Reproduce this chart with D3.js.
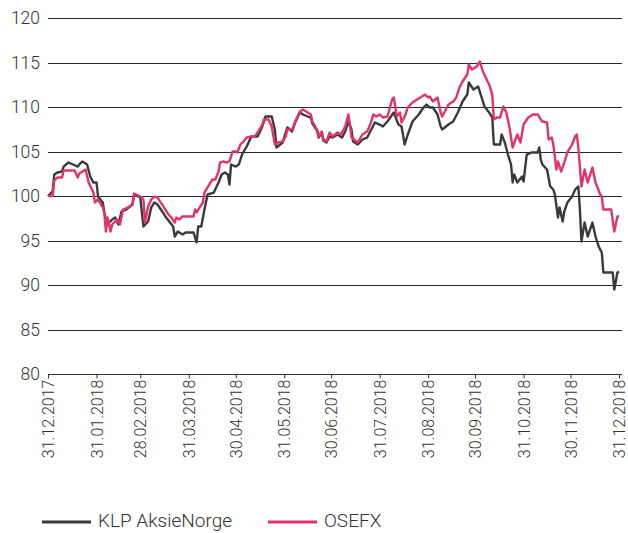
<!DOCTYPE html>
<html>
<head>
<meta charset="utf-8">
<script src="https://cdn.jsdelivr.net/npm/d3@7"></script>
<style>
  html, body { margin: 0; padding: 0; background: #fff; }
  svg { display: block; font-family: "Roboto", "Open Sans", sans-serif; }
</style>
</head>
<body>
<div id="chart"></div>
<script>
// Indeksert utvikling 2018 (31.12.2017 = 100)
const klpDates = [
  "2017-12-31","2018-01-03","2018-01-04","2018-01-06","2018-01-09","2018-01-10","2018-01-13","2018-01-16",
  "2018-01-19","2018-01-20","2018-01-22","2018-01-25","2018-01-27","2018-01-29","2018-01-31","2018-02-01",
  "2018-02-04","2018-02-05","2018-02-07","2018-02-10","2018-02-12","2018-02-14","2018-02-16","2018-02-19",
  "2018-02-23","2018-02-24","2018-02-28","2018-03-02","2018-03-05","2018-03-07","2018-03-09","2018-03-11",
  "2018-03-14","2018-03-16","2018-03-19","2018-03-21","2018-03-22","2018-03-24","2018-03-27","2018-03-29",
  "2018-04-03","2018-04-05","2018-04-06","2018-04-08","2018-04-10","2018-04-12","2018-04-16","2018-04-19",
  "2018-04-21","2018-04-23","2018-04-25","2018-04-26","2018-04-27","2018-04-30","2018-05-02","2018-05-04",
  "2018-05-07","2018-05-10","2018-05-14","2018-05-17","2018-05-19","2018-05-23","2018-05-25","2018-05-26",
  "2018-05-30","2018-06-02","2018-06-05","2018-06-07","2018-06-10","2018-06-12","2018-06-15","2018-06-17",
  "2018-06-18","2018-06-21","2018-06-22","2018-06-24","2018-06-25","2018-06-27","2018-06-29","2018-07-01",
  "2018-07-04","2018-07-07","2018-07-09","2018-07-11","2018-07-13","2018-07-14","2018-07-17","2018-07-20",
  "2018-07-23","2018-07-25","2018-07-28","2018-07-31","2018-08-02","2018-08-05","2018-08-09","2018-08-10",
  "2018-08-12","2018-08-14","2018-08-16","2018-08-18","2018-08-21","2018-08-25","2018-08-28","2018-08-30",
  "2018-09-01","2018-09-03","2018-09-06","2018-09-08","2018-09-09","2018-09-13","2018-09-16","2018-09-19",
  "2018-09-22","2018-09-25","2018-09-26","2018-09-29","2018-10-02","2018-10-04","2018-10-06","2018-10-09",
  "2018-10-11","2018-10-12","2018-10-16","2018-10-17","2018-10-19","2018-10-21","2018-10-23","2018-10-24",
  "2018-10-25","2018-10-27","2018-10-30","2018-10-31","2018-11-02","2018-11-05","2018-11-09","2018-11-10",
  "2018-11-11","2018-11-12","2018-11-15","2018-11-17","2018-11-19","2018-11-20","2018-11-22","2018-11-23",
  "2018-11-25","2018-11-26","2018-11-28","2018-12-01","2018-12-03","2018-12-05","2018-12-06","2018-12-07",
  "2018-12-09","2018-12-11","2018-12-14","2018-12-16","2018-12-18","2018-12-20","2018-12-21","2018-12-27",
  "2018-12-28","2018-12-30","2018-12-31"
];
const klpValues = [
  100.00,100.51,102.42,102.64,102.75,103.31,103.76,103.54,
  103.31,103.54,103.88,103.54,102.19,101.52,101.52,99.94,
  99.27,98.15,96.80,97.36,97.58,96.80,98.26,98.48,
  99.04,100.17,99.83,96.57,97.13,98.71,99.27,99.04,
  98.26,97.70,97.02,96.57,95.45,96.01,95.67,95.90,
  95.90,94.78,96.57,96.57,98.48,100.17,100.39,101.52,
  102.42,102.64,102.42,101.29,103.54,103.31,103.54,104.66,
  105.56,106.69,106.69,107.81,108.93,108.93,107.47,105.45,
  106.01,107.70,107.25,108.26,109.38,109.16,108.93,108.82,
  108.15,107.36,106.57,107.13,106.24,106.01,106.69,106.57,
  106.91,106.57,107.25,108.37,107.47,106.12,105.79,106.35,
  106.57,107.25,108.26,108.03,107.81,108.37,109.38,108.93,
  108.03,107.81,105.79,106.91,108.37,109.16,109.94,110.28,
  109.94,109.94,109.16,107.81,107.47,108.03,108.37,109.38,
  110.62,111.40,112.75,111.97,112.30,111.18,110.06,109.38,
  108.82,105.79,105.79,106.91,106.01,104.66,103.54,101.52,
  102.42,101.52,102.19,101.63,104.66,104.89,104.89,105.45,
  104.10,103.54,102.98,101.07,100.73,100.17,97.58,98.71,
  97.13,98.26,99.27,99.94,100.73,101.07,98.48,94.89,
  97.02,95.45,97.02,95.45,94.33,93.65,91.40,91.40,
  89.49,91.40,91.52
];

const osefxDates = [
  "2017-12-31","2018-01-03","2018-01-04","2018-01-06","2018-01-09","2018-01-10","2018-01-14","2018-01-17",
  "2018-01-19","2018-01-20","2018-01-24","2018-01-26","2018-01-29","2018-01-30","2018-02-01","2018-02-04",
  "2018-02-05","2018-02-06","2018-02-07","2018-02-09","2018-02-10","2018-02-13","2018-02-15","2018-02-17",
  "2018-02-20","2018-02-23","2018-02-24","2018-02-28","2018-03-02","2018-03-03","2018-03-05","2018-03-07",
  "2018-03-09","2018-03-11","2018-03-14","2018-03-16","2018-03-18","2018-03-20","2018-03-22","2018-03-23",
  "2018-03-25","2018-03-27","2018-04-03","2018-04-04","2018-04-05","2018-04-07","2018-04-09","2018-04-10",
  "2018-04-12","2018-04-15","2018-04-17","2018-04-19","2018-04-20","2018-04-22","2018-04-24","2018-04-26",
  "2018-04-28","2018-04-30","2018-05-01","2018-05-03","2018-05-05","2018-05-07","2018-05-10","2018-05-12",
  "2018-05-14","2018-05-17","2018-05-18","2018-05-21","2018-05-23","2018-05-25","2018-05-27","2018-05-30",
  "2018-06-01","2018-06-02","2018-06-05","2018-06-07","2018-06-10","2018-06-12","2018-06-15","2018-06-17",
  "2018-06-18","2018-06-21","2018-06-22","2018-06-24","2018-06-25","2018-06-27","2018-06-29","2018-07-01",
  "2018-07-04","2018-07-06","2018-07-08","2018-07-09","2018-07-11","2018-07-12","2018-07-13","2018-07-17",
  "2018-07-20","2018-07-23","2018-07-25","2018-07-27","2018-07-29","2018-07-31","2018-08-02","2018-08-05",
  "2018-08-08","2018-08-09","2018-08-10","2018-08-11","2018-08-13","2018-08-14","2018-08-16","2018-08-18",
  "2018-08-21","2018-08-24","2018-08-27","2018-08-29","2018-08-31","2018-09-01","2018-09-03","2018-09-06",
  "2018-09-08","2018-09-09","2018-09-13","2018-09-16","2018-09-18","2018-09-20","2018-09-22","2018-09-25",
  "2018-09-26","2018-09-28","2018-10-01","2018-10-03","2018-10-05","2018-10-08","2018-10-09","2018-10-11",
  "2018-10-12","2018-10-14","2018-10-16","2018-10-18","2018-10-20","2018-10-22","2018-10-24","2018-10-27",
  "2018-10-29","2018-10-31","2018-11-03","2018-11-06","2018-11-09","2018-11-11","2018-11-12","2018-11-15",
  "2018-11-16","2018-11-18","2018-11-19","2018-11-21","2018-11-22","2018-11-24","2018-11-26","2018-11-28",
  "2018-12-01","2018-12-03","2018-12-04","2018-12-05","2018-12-07","2018-12-09","2018-12-11","2018-12-14",
  "2018-12-16","2018-12-19","2018-12-20","2018-12-21","2018-12-26","2018-12-28","2018-12-30","2018-12-31"
];
const osefxValues = [
  100.00,100.00,101.74,102.08,102.08,102.87,102.87,102.87,
  102.08,102.53,102.98,101.52,100.39,99.27,99.61,98.71,
  98.15,96.01,97.58,96.01,96.80,97.36,96.80,98.48,
  98.71,99.04,100.28,99.94,99.61,97.02,98.82,99.61,
  99.94,99.83,99.04,98.48,97.92,97.58,97.02,97.58,
  97.36,97.70,97.70,98.48,98.15,98.71,99.27,100.39,
  100.96,101.85,101.85,102.75,103.76,103.88,103.76,103.88,
  105.00,105.00,104.89,105.79,106.12,106.57,106.69,106.69,
  107.13,108.03,108.60,108.60,107.81,105.79,106.01,106.12,
  106.69,107.47,107.47,108.37,109.49,109.72,109.38,109.16,
  108.37,107.47,106.69,107.25,106.35,106.12,107.13,106.69,
  107.13,106.91,107.47,107.81,109.16,108.03,106.57,106.01,
  106.91,107.25,108.03,109.16,108.93,109.16,108.82,108.93,
  110.84,111.07,110.06,108.93,109.38,108.26,108.93,109.94,
  110.51,110.84,111.18,111.40,111.07,111.18,110.62,111.07,
  109.38,108.93,110.28,110.62,111.07,112.19,112.87,113.65,
  114.78,114.21,114.55,115.11,113.99,112.87,112.53,111.40,
  108.60,108.82,108.82,110.06,109.38,107.70,105.45,106.91,
  106.01,108.03,108.82,109.16,109.16,108.60,108.37,108.26,
  106.35,106.57,105.79,102.98,103.88,102.75,103.76,104.89,
  105.79,106.69,106.91,105.45,101.07,102.98,101.52,103.20,
  101.52,100.17,99.94,98.48,98.48,96.01,97.70,97.70
];

const yTicks = [80, 85, 90, 95, 100, 105, 110, 115, 120];
const xTickLabels = [
  "31.12.2017","31.01.2018","28.02.2018","31.03.2018","30.04.2018","31.05.2018","30.06.2018",
  "31.07.2018","31.08.2018","30.09.2018","31.10.2018","30.11.2018","31.12.2018"
];
const seriesNames = ["KLP AksieNorge", "OSEFX"];
const seriesColors = ["#3b3a3a", "#e2336c"];

const width = 628, height = 533;
const margin = { top: 18, right: 9, bottom: 159, left: 48 };
const innerW = width - margin.left - margin.right;
const innerH = height - margin.top - margin.bottom;

const parseDate = d3.timeParse("%Y-%m-%d");
const parseLabel = d3.timeParse("%d.%m.%Y");

const series = [
  klpDates.map((d, i) => ({ date: parseDate(d), value: klpValues[i] })),
  osefxDates.map((d, i) => ({ date: parseDate(d), value: osefxValues[i] }))
];

const x = d3.scaleTime()
  .domain([parseLabel(xTickLabels[0]), parseLabel(xTickLabels[xTickLabels.length - 1])])
  .range([0, innerW]);

const y = d3.scaleLinear()
  .domain([80, 120])
  .range([innerH, 0]);

const svg = d3.select("#chart").append("svg")
  .attr("width", width)
  .attr("height", height);

const g = svg.append("g")
  .attr("transform", `translate(${margin.left},${margin.top})`);

// gridlines
g.append("g")
  .selectAll("line")
  .data(yTicks.filter(t => t > 80))
  .enter().append("line")
  .attr("x1", 0)
  .attr("x2", innerW + 3)
  .attr("y1", d => Math.round(y(d)) + 0.5)
  .attr("y2", d => Math.round(y(d)) + 0.5)
  .attr("stroke", "#2a2a2a")
  .attr("stroke-width", 1);

// y labels
g.append("g")
  .selectAll("text")
  .data(yTicks)
  .enter().append("text")
  .attr("x", -8)
  .attr("y", d => y(d))
  .attr("dy", "0.35em")
  .attr("text-anchor", "end")
  .style("font-size", "17.5px")
  .style("font-weight", 300)
  .style("fill", "#333")
  .text(d => d);

// x axis
const xAxis = d3.axisBottom(x)
  .tickValues(xTickLabels.map(parseLabel))
  .tickSize(4)
  .tickFormat((d, i) => xTickLabels[i]);

const xg = g.append("g")
  .attr("transform", `translate(0,${Math.round(innerH) + 0.5})`)
  .call(xAxis);

xg.select(".domain")
  .attr("d", `M0,0H${innerW + 3}`)
  .attr("stroke", "#333");
xg.selectAll(".tick line").attr("stroke", "#333");
xg.selectAll(".tick text")
  .attr("transform", "rotate(-90)")
  .attr("text-anchor", "end")
  .attr("x", -5)
  .attr("y", 0)
  .attr("dy", "0.35em")
  .style("font-family", "Roboto, 'Open Sans', sans-serif")
  .style("font-size", "16px")
  .style("font-weight", 300)
  .style("fill", "#333");

// lines
const line = d3.line()
  .x(d => x(d.date))
  .y(d => y(d.value));

g.selectAll(".series")
  .data(series)
  .enter().append("path")
  .attr("class", "series")
  .attr("d", line)
  .attr("fill", "none")
  .attr("stroke", (d, i) => seriesColors[i])
  .attr("stroke-width", 2.4)
  .attr("stroke-linejoin", "round");

// legend
const legend = svg.append("g")
  .attr("transform", "translate(42,522)");

const legendX = [0, 226];
const items = legend.selectAll("g")
  .data(seriesNames)
  .enter().append("g")
  .attr("transform", (d, i) => `translate(${legendX[i]},0)`);

items.append("line")
  .attr("x1", 0)
  .attr("x2", 49)
  .attr("stroke", (d, i) => seriesColors[i])
  .attr("stroke-width", 3);

items.append("text")
  .attr("x", 56)
  .attr("y", 5)
  .style("font-size", "19px")
  .style("font-weight", 300)
  .style("fill", "#333")
  .text(d => d);
</script>
</body>
</html>
